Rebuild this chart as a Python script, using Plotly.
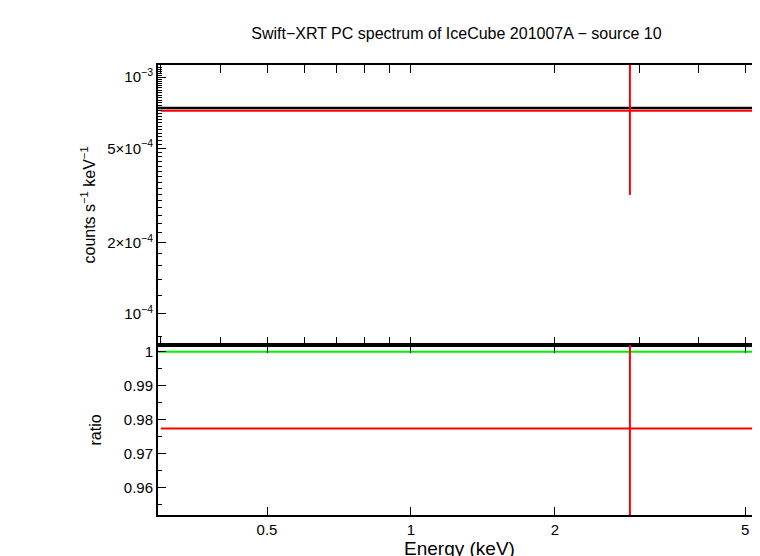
import plotly.graph_objects as go
from plotly.subplots import make_subplots

# spectrum bin (red) and model (black)
bin_lo = [0.3]
bin_hi = [10.0]
bin_e = [2.87]
rate = [7.2e-4]
rate_err_up = [1.2e-3]
rate_err_lo = [3.18e-4]
model = [7.4e-4]
ratio = [0.9774]
ratio_err = [0.1]

fig = make_subplots(rows=2, cols=1, shared_xaxes=True, vertical_spacing=0,
                    row_heights=[0.622, 0.378])

red = "#ff0000"
# top panel
fig.add_trace(go.Scatter(x=[0.29, 5.6], y=[model[0]] * 2, mode="lines",
                         line=dict(color="black", width=2.5)), row=1, col=1)
fig.add_trace(go.Scatter(x=[bin_lo[0], bin_hi[0]], y=[rate[0]] * 2, mode="lines",
                         line=dict(color=red, width=2)), row=1, col=1)
fig.add_trace(go.Scatter(x=[bin_e[0]] * 2, y=[rate_err_lo[0], rate_err_up[0]], mode="lines",
                         line=dict(color=red, width=2)), row=1, col=1)
# bottom panel
fig.add_trace(go.Scatter(x=[0.29, 5.6], y=[1, 1], mode="lines",
                         line=dict(color="#00ee00", width=2)), row=2, col=1)
fig.add_trace(go.Scatter(x=[bin_lo[0], bin_hi[0]], y=[ratio[0]] * 2, mode="lines",
                         line=dict(color=red, width=2)), row=2, col=1)
fig.add_trace(go.Scatter(x=[bin_e[0]] * 2, y=[ratio[0] - ratio_err[0], ratio[0] + ratio_err[0]],
                         mode="lines", line=dict(color=red, width=2)), row=2, col=1)

ax = dict(showline=True, linecolor="black", linewidth=2, mirror="ticks", ticks="inside",
          ticklen=8, tickcolor="black", showgrid=False, zeroline=False, automargin=False,
          tickfont=dict(size=15))
fig.update_xaxes(type="log", range=[-0.529, 0.732], **ax)
fig.update_xaxes(showticklabels=False, row=1, col=1)
fig.update_xaxes(tickvals=[0.5, 1, 2, 5], ticktext=["0.5", "1", "2", "5"],
                 title=dict(text="Energy (keV)", standoff=0), row=2, col=1)
fig.update_yaxes(minor=dict(ticks="inside", ticklen=4, tickcolor="black"), **ax)
fig.update_yaxes(type="log", range=[-4.131, -2.949],
                 tickvals=[1e-4, 2e-4, 5e-4, 1e-3],
                 ticktext=["10<sup>−4</sup>", "2×10<sup>−4</sup>", "5×10<sup>−4</sup>", "10<sup>−3</sup>"],
                 title=dict(text="counts s<sup>−1</sup> keV<sup>−1</sup>", standoff=8, font=dict(size=16)),
                 row=1, col=1)
fig.update_yaxes(range=[0.952, 1.002], tickvals=[0.96, 0.97, 0.98, 0.99, 1],
                 ticktext=["0.96", "0.97", "0.98", "0.99", "1"],
                 title=dict(text="ratio", standoff=18, font=dict(size=16)), row=2, col=1)

fig.update_layout(width=760, height=556, showlegend=False,
                  paper_bgcolor="white", plot_bgcolor="white",
                  font=dict(family="Liberation Sans", size=16, color="black"),
                  margin=dict(l=150, r=7, t=57, b=49, autoexpand=False),
                  title=dict(text="Swift−XRT PC spectrum of IceCube 201007A − source 10",
                             x=0.59, xanchor="center", y=0.965, font=dict(size=16)))
fig.write_html("out.html")
